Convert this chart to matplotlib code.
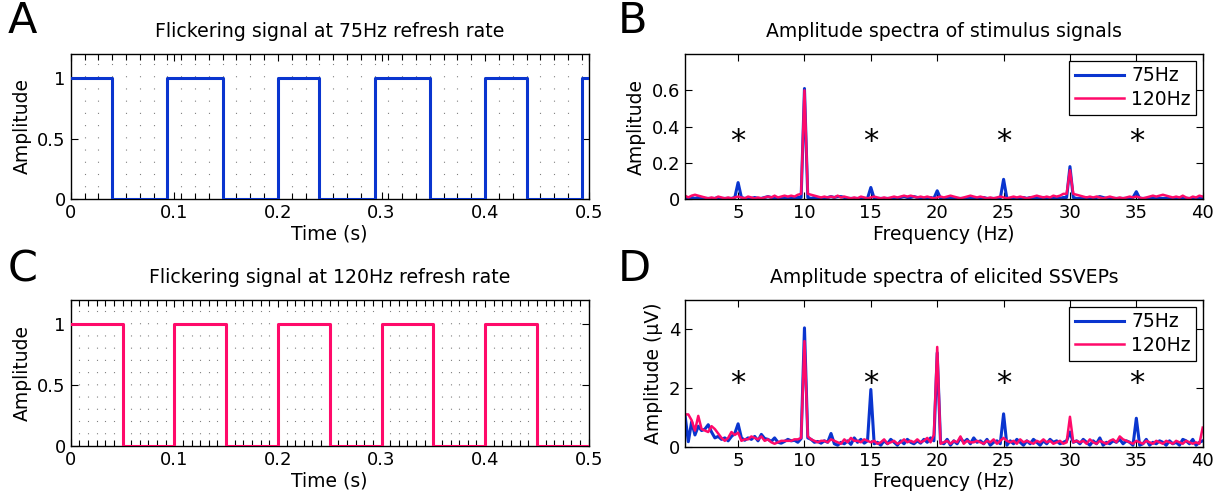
import numpy as np
import matplotlib.pyplot as plt
from matplotlib.ticker import MultipleLocator

# on/off state of each frame (one value per screen refresh)
frames_75 = [1, 1, 1, 0, 0, 0, 0, 1, 1, 1, 1, 0, 0, 0, 0,
             1, 1, 1, 0, 0, 0, 0, 1, 1, 1, 1, 0, 0, 0, 0,
             1, 1, 1, 0, 0, 0, 0, 1]
frames_120 = [1, 1, 1, 1, 1, 1, 0, 0, 0, 0, 0, 0,
              1, 1, 1, 1, 1, 1, 0, 0, 0, 0, 0, 0,
              1, 1, 1, 1, 1, 1, 0, 0, 0, 0, 0, 0,
              1, 1, 1, 1, 1, 1, 0, 0, 0, 0, 0, 0,
              1, 1, 1, 1, 1, 1, 0, 0, 0, 0, 0, 0]

# spectra, 0.25 Hz bins from 1 to 40 Hz (one row = one Hz)
stim_75 = [
    0.005, 0.005, 0.010, 0.005,  0.010, 0.010, 0.005, 0.005,
    0.005, 0.005, 0.010, 0.005,  0.005, 0.005, 0.005, 0.010,
    0.092, 0.010, 0.005, 0.005,  0.005, 0.010, 0.005, 0.005,
    0.010, 0.015, 0.010, 0.010,  0.005, 0.005, 0.010, 0.005,
    0.005, 0.005, 0.010, 0.010,  0.610, 0.010, 0.005, 0.010,
    0.010, 0.005, 0.005, 0.010,  0.015, 0.010, 0.015, 0.015,
    0.010, 0.005, 0.005, 0.005,  0.005, 0.005, 0.005, 0.005,
    0.065, 0.005, 0.005, 0.005,  0.005, 0.005, 0.005, 0.010,
    0.005, 0.010, 0.015, 0.010,  0.010, 0.015, 0.010, 0.005,
    0.005, 0.005, 0.010, 0.005,  0.047, 0.005, 0.005, 0.005,
    0.005, 0.010, 0.005, 0.005,  0.005, 0.005, 0.005, 0.005,
    0.005, 0.005, 0.010, 0.005,  0.005, 0.005, 0.005, 0.005,
    0.110, 0.005, 0.005, 0.005,  0.005, 0.005, 0.010, 0.005,
    0.010, 0.005, 0.005, 0.010,  0.010, 0.005, 0.005, 0.005,
    0.005, 0.005, 0.010, 0.010,  0.180, 0.010, 0.005, 0.005,
    0.005, 0.010, 0.005, 0.005,  0.010, 0.015, 0.010, 0.005,
    0.005, 0.005, 0.005, 0.005,  0.005, 0.005, 0.005, 0.010,
    0.042, 0.005, 0.005, 0.005,  0.005, 0.010, 0.005, 0.005,
    0.005, 0.005, 0.005, 0.005,  0.005, 0.005, 0.010, 0.005,
    0.005, 0.005, 0.005, 0.005,  0.005]
stim_120 = [
    0.020, 0.010, 0.020, 0.025,  0.020, 0.015, 0.010, 0.005,
    0.010, 0.005, 0.015, 0.010,  0.005, 0.010, 0.005, 0.010,
    0.015, 0.010, 0.005, 0.015,  0.010, 0.005, 0.010, 0.005,
    0.010, 0.015, 0.010, 0.020,  0.010, 0.015, 0.020, 0.015,
    0.020, 0.015, 0.025, 0.030,  0.600, 0.030, 0.025, 0.020,
    0.015, 0.010, 0.015, 0.010,  0.015, 0.010, 0.020, 0.010,
    0.015, 0.010, 0.005, 0.010,  0.005, 0.015, 0.010, 0.005,
    0.010, 0.015, 0.010, 0.005,  0.010, 0.005, 0.010, 0.015,
    0.010, 0.015, 0.020, 0.015,  0.020, 0.015, 0.010, 0.015,
    0.010, 0.015, 0.010, 0.005,  0.010, 0.015, 0.010, 0.015,
    0.020, 0.015, 0.010, 0.005,  0.010, 0.015, 0.020, 0.015,
    0.010, 0.015, 0.010, 0.005,  0.010, 0.005, 0.010, 0.015,
    0.010, 0.005, 0.010, 0.015,  0.010, 0.015, 0.010, 0.005,
    0.010, 0.015, 0.020, 0.015,  0.010, 0.015, 0.010, 0.020,
    0.015, 0.020, 0.030, 0.030,  0.160, 0.030, 0.025, 0.020,
    0.015, 0.010, 0.015, 0.010,  0.015, 0.010, 0.005, 0.010,
    0.015, 0.010, 0.005, 0.010,  0.005, 0.010, 0.015, 0.010,
    0.015, 0.010, 0.005, 0.010,  0.015, 0.020, 0.015, 0.020,
    0.025, 0.020, 0.015, 0.010,  0.015, 0.010, 0.020, 0.010,
    0.005, 0.015, 0.010, 0.020,  0.015]
ssvep_75 = [
    1.08, 0.17, 0.85, 0.40,  0.70, 0.55, 0.60, 0.75,
    0.50, 0.30, 0.35, 0.25,  0.30, 0.20, 0.35, 0.45,
    0.78, 0.30, 0.22, 0.30,  0.25, 0.35, 0.20, 0.42,
    0.28, 0.25, 0.18, 0.30,  0.15, 0.12, 0.18, 0.25,
    0.20, 0.22, 0.15, 0.28,  4.05, 0.30, 0.25, 0.15,
    0.18, 0.12, 0.20, 0.15,  0.45, 0.10, 0.05, 0.15,
    0.10, 0.20, 0.08, 0.30,  0.15, 0.25, 0.12, 0.20,
    1.95, 0.10, 0.15, 0.05,  0.20, 0.10, 0.25, 0.15,
    0.05, 0.20, 0.10, 0.25,  0.15, 0.10, 0.20, 0.12,
    0.25, 0.15, 0.30, 0.20,  3.20, 0.15, 0.10, 0.25,
    0.05, 0.20, 0.10, 0.30,  0.15, 0.25, 0.10, 0.30,
    0.15, 0.20, 0.10, 0.25,  0.05, 0.15, 0.20, 0.10,
    1.12, 0.05, 0.20, 0.10,  0.25, 0.15, 0.05, 0.20,
    0.10, 0.25, 0.15, 0.05,  0.20, 0.10, 0.25, 0.15,
    0.20, 0.10, 0.15, 0.20,  0.50, 0.15, 0.20, 0.10,
    0.25, 0.15, 0.05, 0.20,  0.10, 0.30, 0.05, 0.15,
    0.10, 0.20, 0.15, 0.25,  0.10, 0.20, 0.15, 0.05,
    0.97, 0.05, 0.10, 0.25,  0.05, 0.15, 0.10, 0.20,
    0.15, 0.05, 0.20, 0.10,  0.15, 0.05, 0.25, 0.20,
    0.10, 0.25, 0.05, 0.15,  0.20]
ssvep_120 = [
    1.10, 1.10, 0.90, 0.55,  1.05, 0.60, 0.55, 0.50,
    0.70, 0.60, 0.45, 0.30,  0.20, 0.30, 0.50, 0.40,
    0.48, 0.20, 0.25, 0.25,  0.35, 0.30, 0.25, 0.35,
    0.20, 0.25, 0.15, 0.10,  0.15, 0.20, 0.20, 0.20,
    0.20, 0.25, 0.25, 0.30,  3.60, 0.35, 0.25, 0.20,
    0.15, 0.20, 0.20, 0.15,  0.25, 0.20, 0.15, 0.10,
    0.25, 0.15, 0.30, 0.20,  0.20, 0.15, 0.25, 0.20,
    0.15, 0.20, 0.10, 0.15,  0.25, 0.10, 0.15, 0.20,
    0.10, 0.15, 0.25, 0.15,  0.20, 0.15, 0.25, 0.15,
    0.20, 0.30, 0.15, 0.40,  3.40, 0.10, 0.15, 0.20,
    0.10, 0.20, 0.15, 0.35,  0.10, 0.20, 0.15, 0.15,
    0.20, 0.15, 0.10, 0.20,  0.15, 0.25, 0.10, 0.20,
    0.30, 0.20, 0.15, 0.20,  0.10, 0.25, 0.15, 0.20,
    0.15, 0.10, 0.20, 0.15,  0.25, 0.15, 0.20, 0.10,
    0.15, 0.20, 0.10, 0.15,  1.02, 0.15, 0.20, 0.15,
    0.20, 0.10, 0.25, 0.15,  0.10, 0.20, 0.15, 0.10,
    0.20, 0.25, 0.15, 0.35,  0.25, 0.20, 0.15, 0.10,
    0.20, 0.15, 0.10, 0.20,  0.15, 0.10, 0.20, 0.15,
    0.10, 0.20, 0.15, 0.10,  0.20, 0.15, 0.10, 0.20,
    0.15, 0.10, 0.15, 0.10,  0.65]

freqs = np.arange(len(stim_75)) * 0.25 + 1
star_freqs = [5, 15, 25, 35]

BLUE = "#0a35cf"
PINK = "#ff0a6a"

plt.rcParams['font.family'] = 'DejaVu Sans'
plt.rcParams['xtick.direction'] = 'in'
plt.rcParams['ytick.direction'] = 'in'

fig = plt.figure(figsize=(12.25, 4.99), dpi=100)

W, H = 1225, 499
def box(l, t, r, b):
    return [l / W, 1 - b / H, (r - l) / W, (b - t) / H]

axA = fig.add_axes(box(70.7, 53.5, 588.7, 199.3))
axC = fig.add_axes(box(70.7, 299.5, 588.7, 446.0))
axB = fig.add_axes(box(685, 54, 1202.7, 199.3))
axD = fig.add_axes(box(685, 300, 1202.7, 446.7))


def style(ax):
    ax.tick_params(top=True, right=True, which='both', labelsize=13, width=0.8)
    ax.tick_params(which='major', length=5)
    for s in ax.spines.values():
        s.set_linewidth(1.0)


def signal_panel(ax, frames, rate, color, title):
    t = np.append(np.arange(len(frames)) / rate, 0.5)
    v = frames + [frames[-1]]
    ax.plot(t, v, color=color, lw=2.2, drawstyle='steps-post', zorder=3)
    ax.set_xlim(0, 0.5)
    ax.set_ylim(0, 1.2)
    ax.set_xticks([0, 0.1, 0.2, 0.3, 0.4, 0.5])
    ax.set_xticklabels(['0', '0.1', '0.2', '0.3', '0.4', '0.5'])
    ax.set_yticks([0, 0.5, 1])
    ax.set_yticklabels(['0', '0.5', '1'])
    ax.xaxis.set_minor_locator(MultipleLocator(1 / rate))
    ax.tick_params(which='minor', axis='x', length=4)
    ax.xaxis.grid(True, which='minor', linestyle=(0, (1, 10)), color='0.5', lw=0.8)
    style(ax)
    ax.set_title(title, fontsize=13.6, pad=12)
    ax.set_xlabel('Time (s)', fontsize=13.5, labelpad=2)
    ax.set_ylabel('Amplitude', fontsize=13.5, labelpad=4)


def spectrum_panel(ax, blue, pink, ymax, yticks, star_y, title, ylabel):
    ax.plot(freqs, blue, color=BLUE, lw=2.2, label='75Hz')
    ax.plot(freqs, pink, color=PINK, lw=1.8, label='120Hz')
    for f in star_freqs:
        ax.text(f, star_y, '*', fontsize=22, ha='center', va='center')
    ax.set_xlim(1, 40)
    ax.set_ylim(0, ymax)
    ax.set_xticks([5, 10, 15, 20, 25, 30, 35, 40])
    ax.set_yticks(yticks)
    ax.set_yticklabels(['%g' % y for y in yticks])
    style(ax)
    ax.set_title(title, fontsize=13.6, pad=12)
    ax.set_xlabel('Frequency (Hz)', fontsize=13.5, labelpad=2)
    ax.set_ylabel(ylabel, fontsize=13.5, labelpad=4)
    leg = ax.legend(loc='upper right', fontsize=13.5, fancybox=False, framealpha=1,
                    edgecolor='black', borderaxespad=0.35, handlelength=2.6,
                    handletextpad=0.4, borderpad=0.3, labelspacing=0.25)
    leg.get_frame().set_linewidth(0.9)


signal_panel(axA, frames_75, 75, BLUE, 'Flickering signal at 75Hz refresh rate')
signal_panel(axC, frames_120, 120, PINK, 'Flickering signal at 120Hz refresh rate')
spectrum_panel(axB, stim_75, stim_120, 0.8, [0, 0.2, 0.4, 0.6], 0.32,
               'Amplitude spectra of stimulus signals', 'Amplitude')
spectrum_panel(axD, ssvep_75, ssvep_120, 5, [0, 2, 4], 2.15,
               'Amplitude spectra of elicited SSVEPs', 'Amplitude (\u03bcV)')

for letter, x, y in [('A', 8, 0), ('B', 618, 0), ('C', 8, 248), ('D', 618, 248)]:
    fig.text(x / W, 1 - y / H, letter, fontsize=31, va='top', ha='left')

fig.savefig('out.png', dpi=100)
